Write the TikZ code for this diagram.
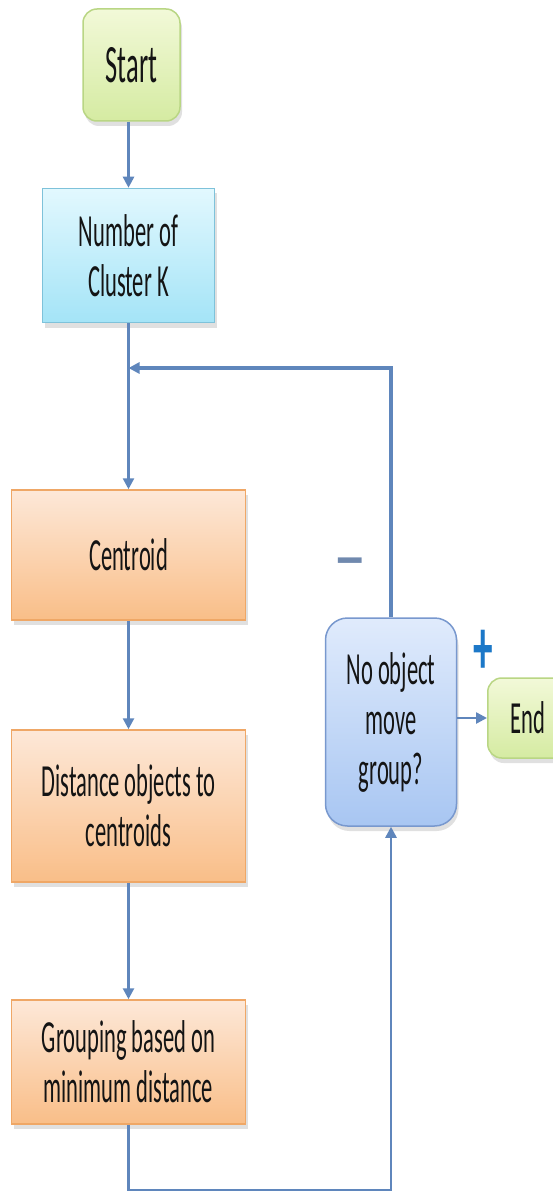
\documentclass[tikz,border=0pt]{standalone}
\usepackage{fontspec}
\setmainfont{Carlito}[FakeStretch=0.49]
\newfontfamily\plainfont{Carlito}
\usetikzlibrary{shadows,arrows.meta}
\definecolor{lineblue}{HTML}{5F86BC}
\definecolor{txt}{HTML}{141414}
\definecolor{gtop}{HTML}{F2F9D8}
\definecolor{gbot}{HTML}{D5EBA2}
\definecolor{gline}{HTML}{B9D684}
\definecolor{ctop}{HTML}{E2F8FE}
\definecolor{cbot}{HTML}{A4E4F7}
\definecolor{cline}{HTML}{7EC2DA}
\definecolor{otop}{HTML}{FDE8D8}
\definecolor{obot}{HTML}{F9BE88}
\definecolor{oline}{HTML}{EFA766}
\definecolor{btop}{HTML}{E0EBFC}
\definecolor{bbot}{HTML}{A8C6F2}
\definecolor{bline}{HTML}{7898CE}
\definecolor{minuscol}{HTML}{7089AE}
\definecolor{pluscol}{HTML}{1C78C8}
\tikzset{
  box/.style={draw, line width=1.5pt, text=txt, align=center,
    font=\fontsize{46}{50}\selectfont,
    drop shadow={shadow xshift=2pt, shadow yshift=-5pt, opacity=0.2, fill=black!60}},
  greenbox/.style={box, draw=gline, top color=gtop, bottom color=gbot, rounded corners=14pt},
  cyanbox/.style={box, draw=cline, top color=ctop, bottom color=cbot},
  orangebox/.style={box, draw=oline, top color=otop, bottom color=obot},
  bluebox/.style={box, draw=bline, top color=btop, bottom color=bbot, rounded corners=22pt},
  conn/.style={draw=lineblue, line width=2.5pt, -{Triangle[length=11pt,width=11pt]}},
}
\begin{document}
\begin{tikzpicture}[x=1pt,y=-1pt]
\useasboundingbox (0,0) rectangle (553,1193);
\fill[white] (0,0) rectangle (553,1193);
\node[greenbox, minimum width=97pt, minimum height=112pt, font=\fontsize{54}{58}\selectfont] (start) at (131.5,65) {Start};
\node[cyanbox, minimum width=172pt, minimum height=134pt] (num) at (128.5,255.5) {Number of\\Cluster K};
\node[orangebox, minimum width=234pt, minimum height=130pt] (cent) at (128.5,555) {Centroid};
\node[orangebox, minimum width=234pt, minimum height=152pt] (dist) at (128.5,806) {Distance objects to\\centroids};
\node[orangebox, minimum width=234pt, minimum height=124pt] (grp) at (128.5,1062) {Grouping based on\\minimum distance};
\node[bluebox, minimum width=131pt, minimum height=208pt] (dec) at (391,722) {No object\\move\\group?};
\node[greenbox, minimum width=80pt, minimum height=80pt, anchor=west] (end) at (487,718) {End};
\coordinate (fb) at (128.5,368);
\coordinate (bot) at (128.5,1190);
\draw[conn] (start.south -| num.north) -- (num.north);
\draw[conn] (num.south) -- (cent.north);
\draw[conn] (cent.south) -- (dist.north);
\draw[conn] (dist.south) -- (grp.north);
\draw[conn] (grp.south) -- (bot) -| (dec.south);
\draw[conn, line width=3.5pt] (dec.north) |- (fb);
\draw[conn] (dec.east |- end.west) -- (end.west);
\node[text=minuscol, font=\plainfont\bfseries\fontsize{42}{42}\selectfont] (minus) at (350,568) {\scalebox{1.6}[1.5]{–}};
\node[text=pluscol, font=\bfseries\fontsize{80}{80}\selectfont] (plus) at (483,652) {+};
\end{tikzpicture}
\end{document}
